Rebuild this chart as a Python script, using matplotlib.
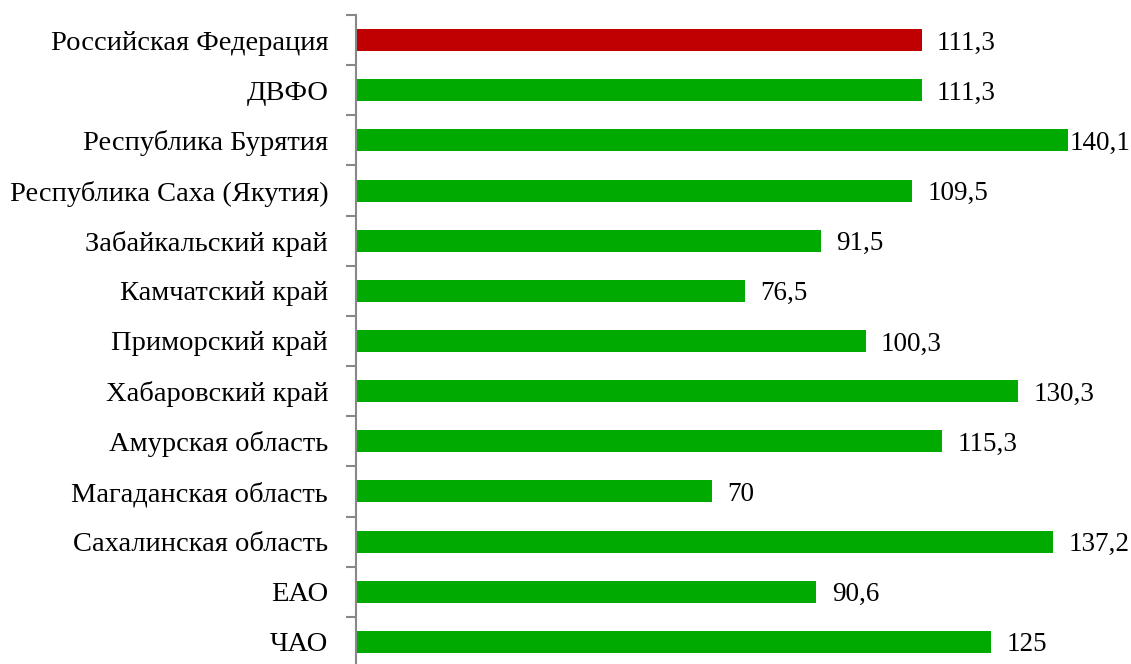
import matplotlib
matplotlib.use('Agg')
import matplotlib.pyplot as plt
import numpy as np

regions = ['Российская Федерация', 'ДВФО', 'Республика Бурятия',
           'Республика Саха (Якутия)', 'Забайкальский край', 'Камчатский край',
           'Приморский край', 'Хабаровский край', 'Амурская область',
           'Магаданская область', 'Сахалинская область', 'ЕАО', 'ЧАО']
values = [111.3, 111.3, 140.1, 109.5, 91.5, 76.5, 100.3, 130.3, 115.3,
          70, 137.2, 90.6, 125]
labels = ['111,3', '111,3', '140,1', '109,5', '91,5', '76,5', '100,3',
          '130,3', '115,3', '70', '137,2', '90,6', '125']

plt.rcParams['font.family'] = ['Liberation Serif', 'DejaVu Serif']

fig = plt.figure(figsize=(11.31, 6.64), dpi=100)
ax = fig.add_axes([356/1131, -3/664, 1 - 356/1131, 652/664])

y = np.arange(len(regions))
colors = ['#C00000'] + ['#00AA00'] * (len(regions) - 1)
ax.barh(y, values, height=0.44, color=colors, edgecolor='none')

for yi, v, lab in zip(y, values, labels):
    # longest bar: label squeezed right against the bar end
    off = 0.3 if v > 140 else 3.0
    ax.text(v + off, yi + 0.06, lab, va='center', ha='left', fontsize=19.5)

ax.set_xlim(0, 152.5)
ax.set_ylim(12.5, -0.5)
ax.set_yticks(y)
ax.set_yticklabels(regions, fontsize=20.5)
ax.set_yticks(np.arange(-0.5, 13, 1), minor=True)
ax.tick_params(axis='y', which='major', length=0, pad=20)
ax.tick_params(axis='y', which='minor', length=7, width=1.5, color='#888888')
ax.set_xticks([])
for s in ['top', 'right', 'bottom']:
    ax.spines[s].set_visible(False)
ax.spines['left'].set_color('#888888')
ax.spines['left'].set_linewidth(1.5)

fig.savefig('out.png', dpi=100)
